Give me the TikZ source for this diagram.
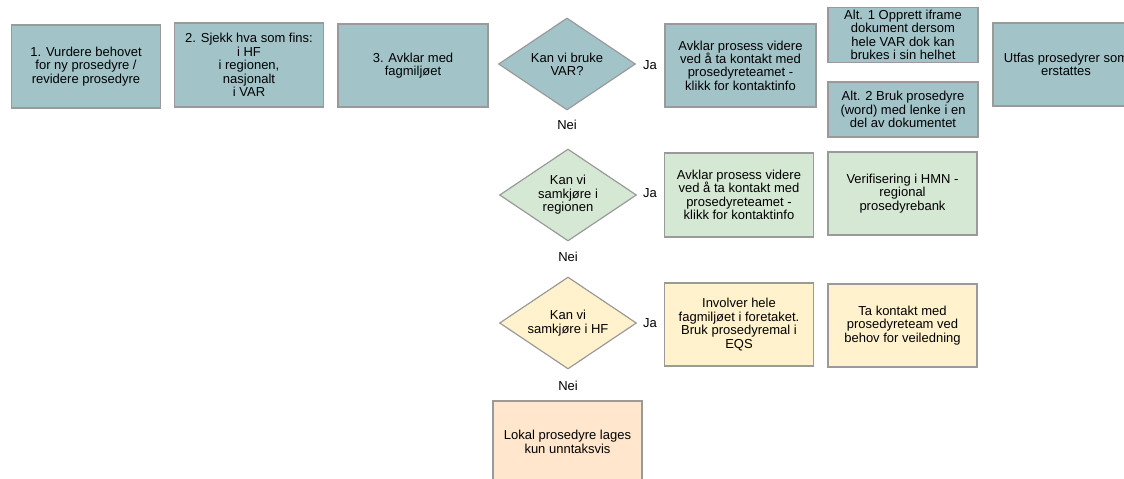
\documentclass[tikz,border=0pt]{standalone}
\usepackage{fontspec}
\setmainfont{Liberation Sans}
\usepackage{tikz}
\usetikzlibrary{shapes.geometric}

\definecolor{varblue}{HTML}{A2C4C9}
\definecolor{regreen}{HTML}{D5E8D4}
\definecolor{hfyellow}{HTML}{FFF2CC}
\definecolor{lokorange}{HTML}{FFE6CC}
\definecolor{edgegray}{HTML}{9A9A9A}

\begin{document}
\begin{tikzpicture}[x=1pt, y=-1pt,
	every node/.style={font=\fontsize{13}{13.4}\selectfont, align=center},
	box/.style={rectangle, draw=edgegray, line width=1.5pt, inner sep=2pt, minimum width=149pt, minimum height=83pt},
	smallbox/.style={box, minimum height=55pt},
	dia/.style={diamond, draw=edgegray, line width=1.2pt, inner sep=0pt, aspect=1.5, minimum width=137pt, minimum height=92pt},
	lbl/.style={inner sep=1pt}]
					\useasboundingbox (0,0) rectangle (1124,479);
					\clip (0,0) rectangle (1124,479);
					
					% første rad
					\node[box, fill=varblue] (b1) at (86,66.5){1. Vurdere behovet\\for ny prosedyre /\\revidere prosedyre};
					\node[box, fill=varblue, minimum height=84pt] (b2) at (249,65){2. Sjekk hva som fins:\\i HF\\i regionen,\\nasjonalt\\i VAR};
					\node[box, fill=varblue, minimum width=150pt] (b3) at (413,65.5){3. Avklar med\\fagmiljøet};
					
					\node[dia, fill=varblue] (d1) at (567,64){Kan vi bruke\\VAR?};
					\node[lbl] (ja1) at (650,65){Ja};
					\node[lbl] (nei1) at (567,125){Nei};
					
					\node[box, fill=varblue, minimum width=151pt] (v1) at (740.5,65.5){Avklar prosess videre\\ved å ta kontakt med\\prosedyreteamet -\\klikk for kontaktinfo};
					\node[smallbox, fill=varblue, minimum width=150pt] (alt1) at (903,35){Alt. 1 Opprett iframe\\dokument dersom\\hele VAR dok kan\\brukes i sin helhet};
					\node[smallbox, fill=varblue, minimum width=150pt] (alt2) at (903,109.5){Alt. 2 Bruk prosedyre\\(word) med lenke i en\\del av dokumentet};
					\node[box, fill=varblue, minimum width=146pt] (utfas) at (1066,64.5){Utfas prosedyrer som\\erstattes};
					
					% andre rad
					\node[dia, fill=regreen] (d2) at (568,195){Kan vi\\samkjøre i\\regionen};
					\node[lbl] (ja2) at (650,193){Ja};
					\node[lbl] (nei2) at (568,257){Nei};
					
					\node[box, fill=regreen, minimum height=84pt] (g1) at (739,195){Avklar prosess videre\\ved å ta kontakt med\\prosedyreteamet -\\klikk for kontaktinfo};
					\node[box, fill=regreen] (g2) at (902.5,193.5){Verifisering i HMN -\\regional\\prosedyrebank};
					
					% tredje rad
					\node[dia, fill=hfyellow] (d3) at (568,323){Kan vi\\samkjøre i HF};
					\node[lbl] (ja3) at (650,323){Ja};
					\node[lbl] (nei3) at (568,386){Nei};
					
					\node[box, fill=hfyellow] (y1) at (739,324.5){Involver hele\\fagmiljøet i foretaket.\\Bruk prosedyremal i\\EQS};
					\node[box, fill=hfyellow] (y2) at (902.5,325.5){Ta kontakt med\\prosedyreteam ved\\behov for veiledning};
					
					\node[box, fill=lokorange, minimum height=82pt] (lokal) at (567.5,442){Lokal prosedyre lages\\kun unntaksvis};
					\end{tikzpicture}
\end{document}
